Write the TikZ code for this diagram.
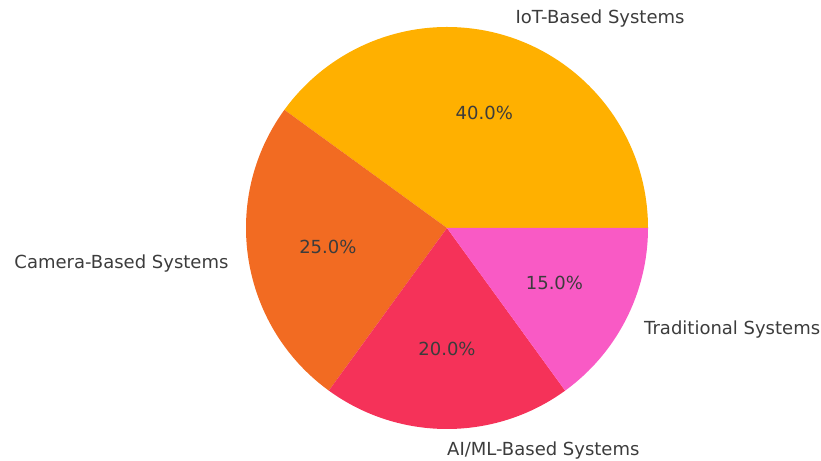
\documentclass[tikz,border=0pt]{standalone}
\usepackage{fontspec}
\setmainfont{DejaVu Sans}
\definecolor{iotc}{HTML}{FFB000}
\definecolor{camc}{HTML}{F26B22}
\definecolor{aic}{HTML}{F53259}
\definecolor{tradc}{HTML}{F95AC5}
\definecolor{txt}{HTML}{3C3C3C}
\begin{document}
\begin{tikzpicture}[x=1pt,y=1pt,
  lbl/.style={text=txt,font=\fontsize{18}{22}\selectfont,inner sep=0pt},
  side/.style={lbl,yshift=-1.2pt},
  pct/.style={lbl,anchor=center}]
\useasboundingbox (0,0) rectangle (821,460);
\coordinate (c) at (447,232);
\fill[iotc] (c) -- ([shift={(0:201)}]c) arc[start angle=0,end angle=144,radius=201] -- cycle;
\fill[camc] (c) -- ([shift={(144:201)}]c) arc[start angle=144,end angle=234,radius=201] -- cycle;
\fill[aic] (c) -- ([shift={(234:201)}]c) arc[start angle=234,end angle=306,radius=201] -- cycle;
\fill[tradc] (c) -- ([shift={(306:201)}]c) arc[start angle=306,end angle=360,radius=201] -- cycle;
\node[side,anchor=west] (liot) at ([shift={(72:221.1)}]c) {IoT-Based Systems};
\node[side,anchor=east] (lcam) at ([shift={(189:221.1)}]c) {Camera-Based Systems};
\node[side,anchor=west] (lai) at ([shift={(270:221.1)}]c) {AI/ML-Based Systems};
\node[side,anchor=west] (ltrad) at ([shift={(333:221.1)}]c) {Traditional Systems};
\node[pct] (piot) at ([shift={(72:120.6)}]c) {40.0\%};
\node[pct] (pcam) at ([shift={(189:120.6)}]c) {25.0\%};
\node[pct] (pai) at ([shift={(270:120.6)}]c) {20.0\%};
\node[pct] (ptrad) at ([shift={(333:120.6)}]c) {15.0\%};
\end{tikzpicture}
\end{document}
